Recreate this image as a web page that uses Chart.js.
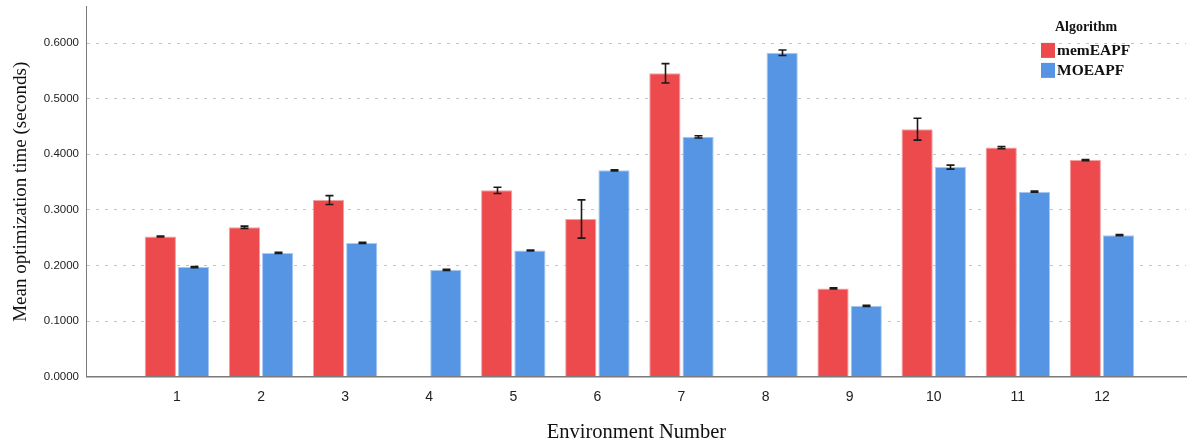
<!DOCTYPE html>
<html>
<head>
<meta charset="utf-8">
<title>Mean optimization time</title>
<script src="https://cdn.jsdelivr.net/npm/chart.js@4/dist/chart.umd.min.js"></script>
<style>
  html, body { margin: 0; padding: 0; background: #fff; }
  #wrap { width: 1187px; height: 441px; position: relative; }
</style>
</head>
<body>
<div id="wrap"><canvas id="chart"></canvas></div>
<script>
// environment numbers on the x axis
const envs = [1, 2, 3, 4, 5, 6, 7, 8, 9, 10, 11, 12];
// mean optimization time (s), null = no bar
const memEAPF = [0.252, 0.2686, 0.3176, null, 0.335, 0.2835, 0.5455, null, 0.1586, 0.445, 0.412, 0.3894];
const MOEAPF  = [0.197, 0.2225, 0.2405, 0.192, 0.2268, 0.371, 0.4313, 0.5826, 0.1274, 0.3768, 0.3327, 0.2543];
// error bar half-lengths
const memErr = [0.001, 0.002, 0.008, null, 0.0057, 0.0344, 0.0174, null, 0.001, 0.0197, 0.002, 0.001];
const moeErr = [0.001, 0.001, 0.001, 0.001, 0.001, 0.001, 0.002, 0.005, 0.001, 0.0036, 0.001, 0.001];
const yTicks = [0, 0.1, 0.2, 0.3, 0.4, 0.5, 0.6];

const RED = '#ec4a4c';
const BLUE = '#5595e3';

function points(vals) {
    return envs.map((e, i) => ({ x: e, y: vals[i] }));
}

// draws the black error whiskers on top of each bar
const errorBars = {
    id: 'errorBars',
    afterDatasetsDraw(chart) {
        const ctx = chart.ctx;
        const y = chart.scales.y;
        ctx.save();
        ctx.strokeStyle = '#1a1a1a';
        ctx.lineWidth = 1.6;
        chart.data.datasets.forEach((ds, i) => {
            const meta = chart.getDatasetMeta(i);
            meta.data.forEach((bar, j) => {
                const v = ds.data[j].y;
                const e = ds.errors[j];
                if (v == null || e == null) return;
                const top = y.getPixelForValue(v + e);
                const bot = y.getPixelForValue(v - e);
                const x = Math.round(bar.x) + 0.5;
                ctx.beginPath();
                ctx.moveTo(x, top); ctx.lineTo(x, bot);
                ctx.moveTo(x - 4, top); ctx.lineTo(x + 4, top);
                ctx.moveTo(x - 4, bot); ctx.lineTo(x + 4, bot);
                ctx.stroke();
            });
        });
        ctx.restore();
    }
};

// legend box in the upper right corner, over the plot
const cornerLegend = {
    id: 'cornerLegend',
    afterDraw(chart) {
        const ctx = chart.ctx;
        const r = chart.chartArea.right;
        const t = chart.chartArea.top;
        ctx.save();
        ctx.fillStyle = '#111';
        ctx.font = 'bold 14px "Liberation Serif", serif';
        ctx.textBaseline = 'middle';
        ctx.textAlign = 'center';
        ctx.fillText('Algorithm', r - 100, t + 20);
        ctx.textAlign = 'left';
        chart.data.datasets.forEach((ds, i) => {
            const yy = t + 36 + i * 20;
            ctx.fillStyle = ds.backgroundColor;
            ctx.fillRect(r - 145, yy, 14, 15);
            ctx.fillStyle = '#111';
            ctx.font = 'bold 15.5px "Liberation Serif", serif';
            ctx.fillText(ds.label, r - 129, yy + 8);
        });
        ctx.restore();
    }
};

new Chart(document.getElementById('chart'), {
    type: 'bar',
    data: {
        datasets: [
            { label: 'memEAPF', data: points(memEAPF), errors: memErr,
              backgroundColor: RED, borderColor: '#f5a0a0', borderWidth: 1 },
            { label: 'MOEAPF', data: points(MOEAPF), errors: moeErr,
              backgroundColor: BLUE, borderColor: '#a8caf2', borderWidth: 1 }
        ]
    },
    options: {
        responsive: true,
        maintainAspectRatio: false,
        animation: false,
        categoryPercentage: 0.79,
        barPercentage: 0.94,
        layout: { padding: { left: 10, top: 0, right: 1, bottom: 0 } },
        plugins: {
            legend: { display: false },
            tooltip: { enabled: false }
        },
        scales: {
            x: {
                type: 'linear',
                offset: false,
                min: -0.07,
                max: 13.0,
                afterBuildTicks: (s) => { s.ticks = envs.map(v => ({ value: v })); },
                ticks: {
                    autoSkip: false,
                    maxRotation: 0,
                    padding: 12,
                    color: '#222',
                    font: { family: '"Liberation Sans", Arial, sans-serif', size: 14 },
                    callback: (v) => String(v)
                },
                grid: { display: false, drawTicks: false },
                border: { display: true, color: '#7a7a7a', width: 1.5 },
                title: {
                    display: true,
                    text: 'Environment Number',
                    color: '#111',
                    font: { family: '"Liberation Serif", serif', size: 20.5 },
                    padding: { top: 3, bottom: -4 }
                }
            },
            y: {
                min: 0,
                max: 0.665,
                afterBuildTicks: (s) => { s.ticks = yTicks.map(v => ({ value: v })); },
                ticks: {
                    padding: 0,
                    color: '#222',
                    font: { family: '"Liberation Sans", Arial, sans-serif', size: 11.5 },
                    callback: (v) => Number(v).toFixed(4)
                },
                grid: { color: '#c4c4c4', lineWidth: 1, drawTicks: true, tickLength: 8, tickColor: 'rgba(0,0,0,0)' },
                border: { display: true, color: '#7a7a7a', width: 1, dash: [3, 6] },
                title: {
                    display: true,
                    text: 'Mean optimization time (seconds)',
                    color: '#111',
                    font: { family: '"Liberation Serif", serif', size: 19 },
                    padding: { top: 0, bottom: 11 }
                }
            }
        }
    },
    plugins: [errorBars, cornerLegend]
});
</script>
</body>
</html>
